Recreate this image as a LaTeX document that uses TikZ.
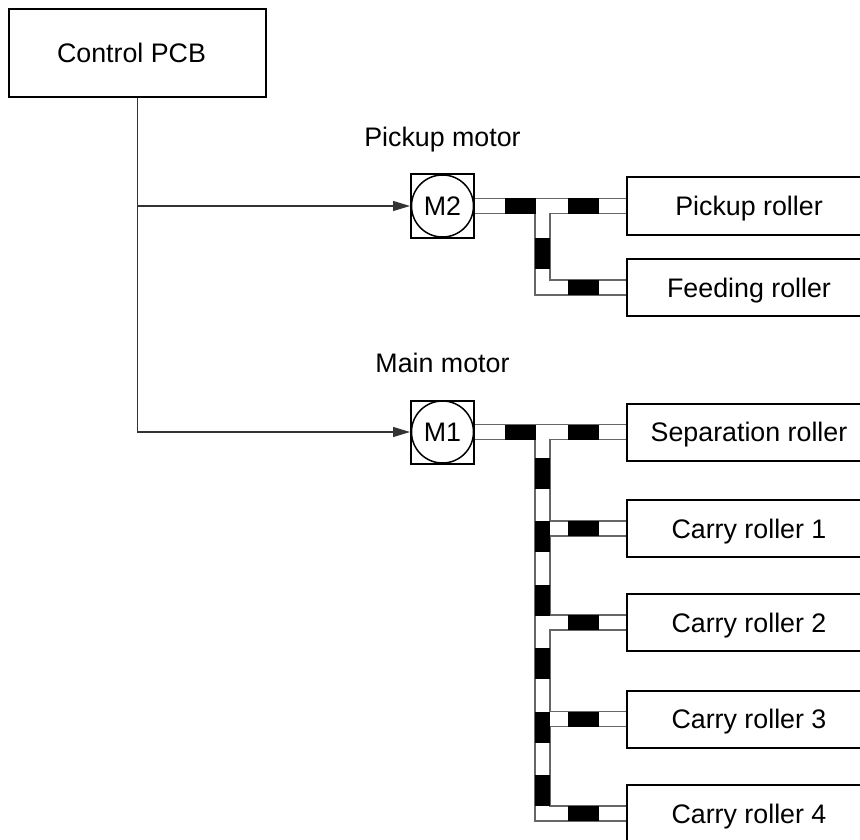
\documentclass[tikz,border=0pt]{standalone}
\usepackage{fontspec}
\setmainfont{Liberation Sans}
\usetikzlibrary{arrows.meta,calc,positioning}
\begin{document}
\begin{tikzpicture}[x=1pt,y=-1pt,
  every node/.style={font=\fontsize{26.8}{31}\selectfont, text height=19.2pt, text depth=0pt},
  box/.style={draw=black, line width=2pt, inner sep=0pt},
  roller/.style={box, minimum width=244pt, minimum height=57pt},
  motor/.style={box, minimum width=63pt, minimum height=63pt},
  lbl/.style={inner sep=0pt},
  conn/.style={draw=black!80, line width=1.2pt, -{Triangle[length=17pt,width=10pt]}},
  shaftline/.style={draw=black!60, line width=1.2pt},
  blk/.style={fill=black}]
\clip (0,0) rectangle (860,840);
% nodes
\node[box, minimum width=257pt, minimum height=88pt] (pcb) at (137.5,53) {\hspace*{-6pt}Control PCB\hspace*{6pt}};
\node[motor] (m2) at (442.5,206) {M2};
\node[motor] (m1) at (442.5,432) {M1};
\draw[line width=1.5pt] (m2.center) circle (31);
\draw[line width=1.5pt] (m1.center) circle (31);
\node[lbl, above=27pt of m2] (lm2) {Pickup motor};
\node[lbl, above=27pt of m1] (lm1) {Main motor};
\node[roller] (pr) at (749,206) {Pickup roller};
\node[roller] (fr) at (749,287.5) {Feeding roller};
\node[roller] (sr) at (749,432) {Separation roller};
\node[roller] (c1) at (749,528.5) {Carry roller 1};
\node[roller] (c2) at (749,622.5) {Carry roller 2};
\node[roller] (c3) at (749,719) {Carry roller 3};
\node[roller] (c4) at (749,813.5) {Carry roller 4};
% control connectors
\draw[conn] (pcb.south) |- (m1.west);
\draw[conn] (pcb.south |- m2.west) -- (m2.west);
% pickup motor shaft
\coordinate (j2) at (542.5,206);
\draw[shaftline] ($(m2.east)+(0,-7.5)$) -- ($(pr.west)+(0,-7.5)$);
\draw[shaftline] ($(m2.east)+(0,7.5)$) -- ($(j2)+(-7.5,7.5)$) -- ($(j2|-fr.west)+(-7.5,7.5)$) -- ($(fr.west)+(0,7.5)$);
\draw[shaftline] ($(pr.west)+(0,7.5)$) -- ($(j2)+(7.5,7.5)$) -- ($(j2|-fr.west)+(7.5,-7.5)$) -- ($(fr.west)+(0,-7.5)$);
\fill[blk] ($(j2)+(-37.5,-7.5)$) rectangle ++(31,15);
\fill[blk] ($(j2)+(25.5,-7.5)$) rectangle ++(31,15);
\fill[blk] ($(j2)+(-7.5,32)$) rectangle ++(15,31);
\fill[blk] ($(j2|-fr.west)+(25.5,-7.5)$) rectangle ++(31,15);
% main motor shaft
\coordinate (j1) at (542.5,432);
\draw[shaftline] ($(m1.east)+(0,-7.5)$) -- ($(sr.west)+(0,-7.5)$);
\draw[shaftline] ($(m1.east)+(0,7.5)$) -- ($(j1)+(-7.5,7.5)$) -- ($(j1|-c4.west)+(-7.5,7.5)$) -- ($(c4.west)+(0,7.5)$);
\draw[shaftline] ($(sr.west)+(0,7.5)$) -- ($(j1)+(7.5,7.5)$) -- ($(j1|-c1.west)+(7.5,-7.5)$) -- ($(c1.west)+(0,-7.5)$);
\draw[shaftline] ($(c1.west)+(0,7.5)$) -- ($(j1|-c1.west)+(7.5,7.5)$) -- ($(j1|-c2.west)+(7.5,-7.5)$) -- ($(c2.west)+(0,-7.5)$);
\draw[shaftline] ($(c2.west)+(0,7.5)$) -- ($(j1|-c2.west)+(7.5,7.5)$) -- ($(j1|-c3.west)+(7.5,-7.5)$) -- ($(c3.west)+(0,-7.5)$);
\draw[shaftline] ($(c3.west)+(0,7.5)$) -- ($(j1|-c3.west)+(7.5,7.5)$) -- ($(j1|-c4.west)+(7.5,-7.5)$) -- ($(c4.west)+(0,-7.5)$);
\fill[blk] ($(j1)+(-37.5,-7.5)$) rectangle ++(31,15);
\fill[blk] ($(j1)+(25.5,-7.5)$) rectangle ++(31,15);
\foreach \i in {0,...,5}{
  \fill[blk] ($(j1)+(-7.5,26+63.4*\i)$) rectangle ++(15,31);
}
\foreach \r in {c1,c2,c3,c4}{
  \fill[blk] ($(j1|-\r.west)+(25.5,-7.5)$) rectangle ++(31,15);
}
\end{tikzpicture}
\end{document}
